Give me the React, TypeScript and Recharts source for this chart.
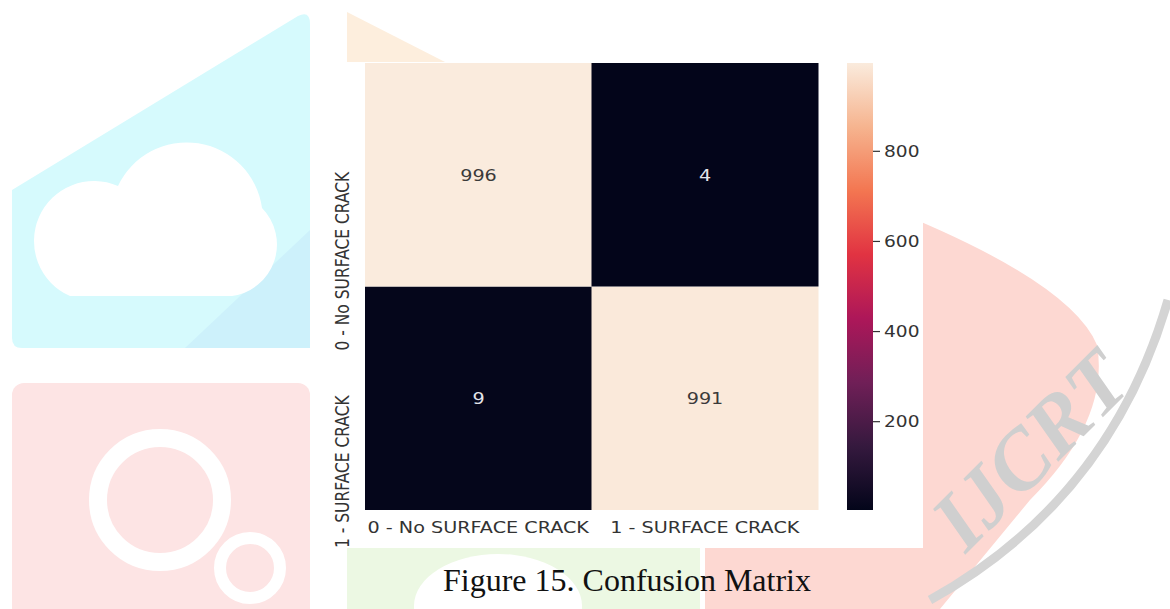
import React from "react";
import { BarChart, Bar, XAxis, YAxis, Cell, LabelList } from "recharts";

// confusion matrix, rows = actual, columns = predicted
const classLabels = ["0 - No SURFACE CRACK", "1 - SURFACE CRACK"];
const rowNoCrack = [996, 4];
const rowCrack = [9, 991];
const colorbarTicks = [200, 400, 600, 800];

const allCounts = [...rowNoCrack, ...rowCrack];
const vmin = Math.min(...allCounts);
const vmax = Math.max(...allCounts);

// seaborn "rocket"
const rocketStops = ["#03051A", "#35193E", "#701F57", "#AD1759", "#E13342", "#F37651", "#F6B48F", "#FAEBDD"];

function hexToRgb(h: string) {
  const n = parseInt(h.slice(1), 16);
  return [(n >> 16) & 255, (n >> 8) & 255, n & 255];
}

function rocket(t: number) {
  const c = Math.max(0, Math.min(1, t)) * (rocketStops.length - 1);
  const i = Math.min(Math.floor(c), rocketStops.length - 2);
  const f = c - i;
  const a = hexToRgb(rocketStops[i]);
  const b = hexToRgb(rocketStops[i + 1]);
  const m = a.map((v, k) => Math.round(v + (b[k] - v) * f));
  return `rgb(${m[0]},${m[1]},${m[2]})`;
}

const colorFor = (v: number) => rocket((v - vmin) / (vmax - vmin));

const heatData = classLabels.map((name, j) => ({
  name,
  top: 1,
  bottom: 1,
  topCount: rowNoCrack[j],
  bottomCount: rowCrack[j],
}));

const colorbarData = [{ name: "scale", range: [vmin, vmax] }];

const FONT = "DejaVu Sans";
const INK = "#333333";

const YTick = (p: any) => {
  const label = p.payload.value > 1 ? classLabels[0] : classLabels[1];
  return (
    <g transform={`translate(${p.x - 16},${p.y - 3}) scale(1.2,1) rotate(-90)`}>
      <text x={0} y={0} textAnchor="end" fontSize={15.5} fontFamily={FONT} fill={INK}>
        {label}
      </text>
    </g>
  );
};

const XTick = (p: any) => (
  <g transform={`translate(${p.x},${p.y + 23}) scale(1.2,1)`}>
    <text x={0} y={0} textAnchor="middle" fontSize={16} fontFamily={FONT} fill={INK}>
      {p.payload.value}
    </text>
  </g>
);

const CbTick = (p: any) => (
  <g transform={`translate(${p.x},${p.y}) scale(1.2,1)`}>
    <text x={0} y={0} dy="0.36em" textAnchor="start" fontSize={15.5} fontFamily={FONT} fill={INK}>
      {p.payload.value}
    </text>
  </g>
);

const CellLabel = (p: any) => {
  const cx = p.x + p.width / 2;
  const cy = p.y + p.height / 2;
  const light = (p.value - vmin) / (vmax - vmin) > 0.5;
  return (
    <g transform={`translate(${cx},${cy}) scale(1.2,1)`}>
      <text x={0} y={0} dy="0.36em" textAnchor="middle" fontSize={16} fontFamily={FONT} fill={light ? "#3a3a3a" : "#e4e4ea"}>
        {p.value}
      </text>
    </g>
  );
};

function Watermark() {
  return (
    <svg width={1170} height={609} style={{ position: "absolute", left: 0, top: 0 }}>
      <path d="M12 190 L298 16 Q310 10 310 24 L310 338 Q310 348 300 348 L22 348 Q12 348 12 338 Z" fill="#d6fafd" />
      <path d="M185 348 L310 230 L310 348 Z" fill="#cdf1fb" />
      <path d="M70 296 L232 296 A52 52 0 0 0 262 208 A76 76 0 0 0 118 186 A56 56 0 0 0 70 296 Z" fill="#ffffff" />
      <rect x={12} y={383} width={298} height={240} rx={12} fill="#fde4e4" />
      <circle cx={160} cy={500} r={62} fill="none" stroke="#ffffff" strokeWidth={18} />
      <circle cx={250} cy={568} r={30} fill="none" stroke="#ffffff" strokeWidth={12} />
      <polygon points="347,12 347,62 445,62" fill="#fdeedd" />
      <rect x={347} y={548} width={353} height={61} fill="#ecf8e3" />
      <ellipse cx={498} cy={606} rx={84} ry={52} fill="#ffffff" />
      <path d="M880 205 Q1070 280 1097 345 Q1110 420 1030 500 L940 609 L705 609 L705 548 L880 548 Z" fill="#fdd8d2" />
      <rect x={330} y={62} width={593} height={486} fill="#ffffff" />
      <path d="M1168 300 Q1110 500 930 600" fill="none" stroke="#d4d4d4" strokeWidth={9} />
      <text
        transform="translate(1050,470) rotate(-45)"
        textAnchor="middle"
        fontSize={84}
        fontStyle="italic"
        fontWeight="bold"
        fontFamily="Liberation Serif"
        fill="#cfcfcf"
      >
        IJCRT
      </text>
    </svg>
  );
}

export default function App() {
  return (
    <div style={{ position: "absolute", left: 0, top: 0, width: 1170, height: 609, background: "#fff", overflow: "hidden" }}>
      <Watermark />
      <div style={{ position: "absolute", left: 300, top: 40 }}>
        <BarChart
          width={540}
          height={520}
          data={heatData}
          margin={{ top: 23, right: 22, bottom: 0, left: 0 }}
          barCategoryGap={0}
        >
          <XAxis dataKey="name" height={50} tick={<XTick />} tickSize={0} tickMargin={0} axisLine={false} tickLine={false} />
          <YAxis
            type="number"
            domain={[0, 2]}
            ticks={[0.5, 1.5]}
            width={65}
            tick={<YTick />}
            tickSize={0}
            tickMargin={0}
            axisLine={false}
            tickLine={false}
          />
          <Bar dataKey="bottom" stackId="m" isAnimationActive={false}>
            {heatData.map((d) => (
              <Cell key={`b-${d.name}`} fill={colorFor(d.bottomCount)} />
            ))}
            <LabelList dataKey="bottomCount" content={<CellLabel />} />
          </Bar>
          <Bar dataKey="top" stackId="m" isAnimationActive={false}>
            {heatData.map((d) => (
              <Cell key={`t-${d.name}`} fill={colorFor(d.topCount)} />
            ))}
            <LabelList dataKey="topCount" content={<CellLabel />} />
          </Bar>
        </BarChart>
      </div>
      <div style={{ position: "absolute", left: 820, top: 40 }}>
        <BarChart
          width={120}
          height={520}
          data={colorbarData}
          margin={{ top: 23, right: 0, bottom: 50, left: 27 }}
          barCategoryGap={0}
        >
          <defs>
            <linearGradient id="rocketGrad" x1="0" y1="0" x2="0" y2="1">
              {rocketStops
                .slice()
                .reverse()
                .map((c, i) => (
                  <stop key={c} offset={i / (rocketStops.length - 1)} stopColor={c} />
                ))}
            </linearGradient>
          </defs>
          <XAxis dataKey="name" hide />
          <YAxis
            type="number"
            orientation="right"
            domain={[vmin, vmax]}
            ticks={colorbarTicks}
            width={67}
            axisLine={false}
            tickLine={{ stroke: INK, strokeWidth: 1.2 }}
            tickSize={7}
            tickMargin={4}
            tick={<CbTick />}
          />
          <Bar dataKey="range" fill="url(#rocketGrad)" isAnimationActive={false} />
        </BarChart>
      </div>
      <div
        style={{
          position: "absolute",
          left: 427,
          top: 560,
          width: 400,
          textAlign: "center",
          fontFamily: "Liberation Serif",
          fontSize: 32,
          lineHeight: "40px",
          color: "#111",
        }}
      >
        Figure 15. Confusion Matrix
      </div>
    </div>
  );
}
